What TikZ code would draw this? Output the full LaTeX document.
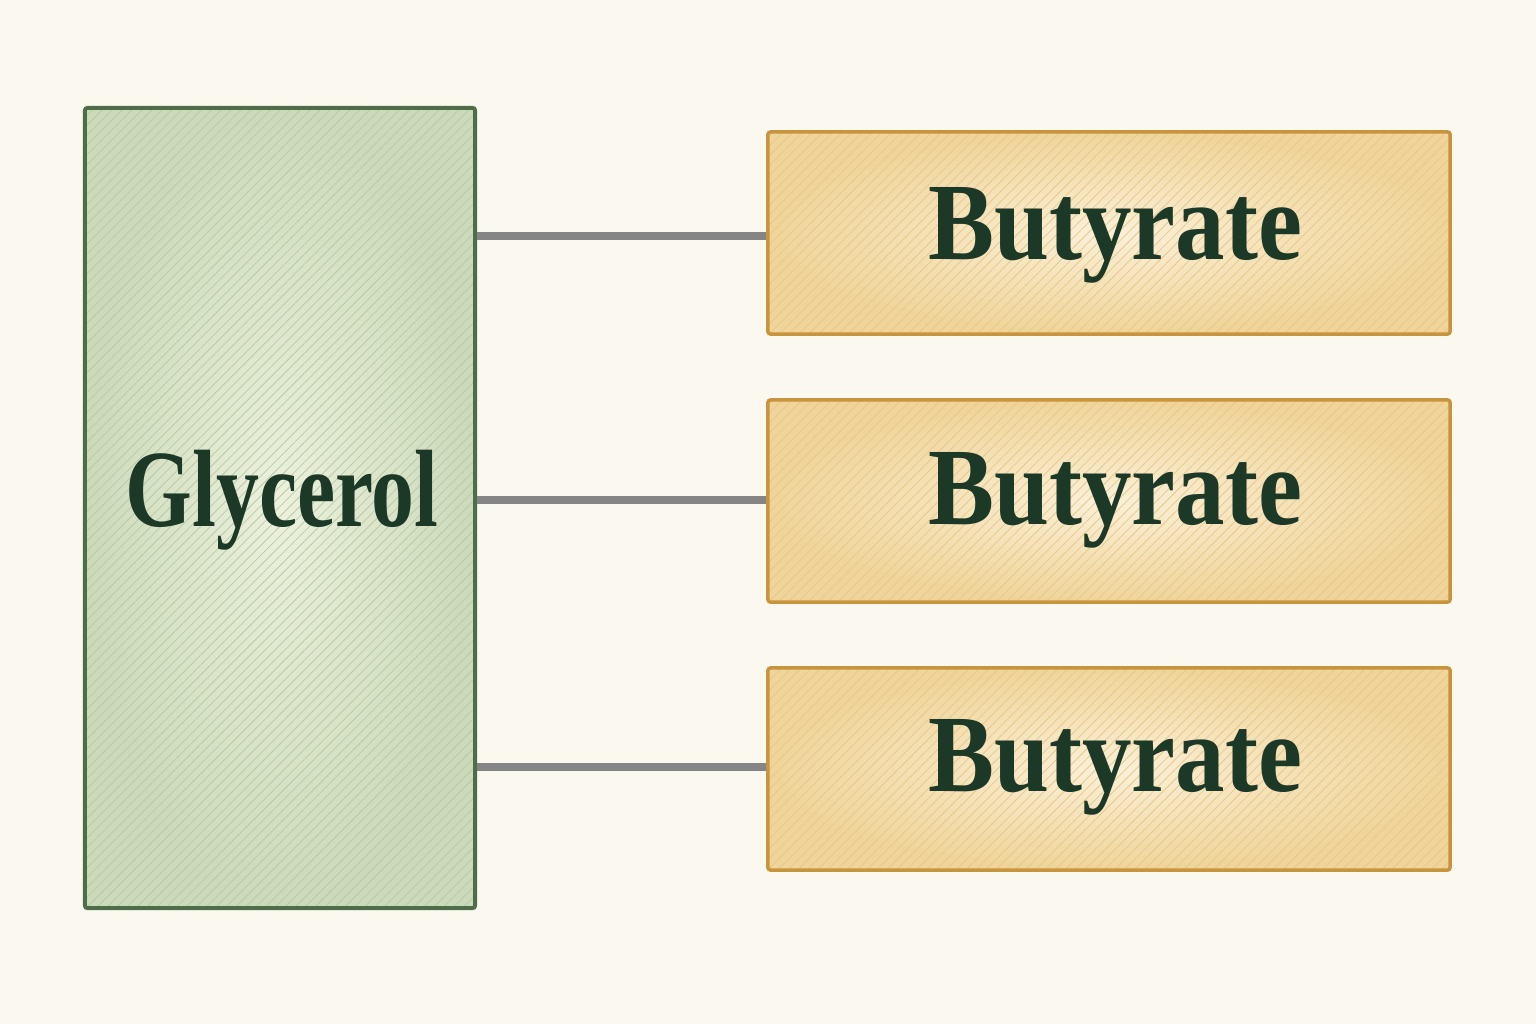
\documentclass[tikz,border=0pt]{standalone}
\usepackage{fontspec}
\setmainfont{Liberation Serif}
\usetikzlibrary{patterns.meta}
\definecolor{bg}{HTML}{FBF8F0}
\definecolor{gfill}{HTML}{CBDAB9}
\definecolor{gin}{HTML}{EDF1DE}
\definecolor{gdraw}{HTML}{4D6E48}
\definecolor{ghatch}{HTML}{B9CBA6}
\definecolor{ofill}{HTML}{F0D499}
\definecolor{oin}{HTML}{FBF0D8}
\definecolor{odraw}{HTML}{C8953E}
\definecolor{ohatch}{HTML}{E6C98C}
\definecolor{txt}{HTML}{1C3826}
\definecolor{link}{HTML}{858585}
\tikzset{
  glybox/.style={draw=none, inner color=gin, outer color=gfill,
    minimum width=390pt, minimum height=800pt, inner sep=0pt,
    postaction={draw=none, pattern={Lines[angle=45,distance=7pt,line width=0.8pt]}, pattern color=ghatch, fill opacity=0.6}},
  butbox/.style={draw=none, inner color=oin, outer color=ofill,
    minimum width=682pt, minimum height=202pt, inner sep=0pt,
    postaction={draw=none, pattern={Lines[angle=45,distance=7pt,line width=0.8pt]}, pattern color=ohatch, fill opacity=0.6}},
  gborder/.style={draw=gdraw, line width=4pt, rounded corners=3pt},
  oborder/.style={draw=odraw, line width=3.5pt, rounded corners=3pt},
  lbl/.style={text=txt, font=\fontsize{110}{110}\selectfont\bfseries},
  linkline/.style={draw=link, line width=8pt}
}
\begin{document}
\begin{tikzpicture}[x=1pt,y=-1pt]
\useasboundingbox[fill=bg] (0,0) rectangle (1536,1024);
\node[glybox] (gly) at (280,508) {};
\node[butbox] (b1) at (1109,233) {};
\node[butbox] (b2) at (1109,501) {};
\node[butbox] (b3) at (1109,769) {};
\draw[gborder] (gly.south west) rectangle (gly.north east);
\draw[oborder] (b1.south west) rectangle (b1.north east);
\draw[oborder] (b2.south west) rectangle (b2.north east);
\draw[oborder] (b3.south west) rectangle (b3.north east);
\coordinate (g1) at (gly.east |- 0,236);
\coordinate (g2) at (gly.east |- 0,500);
\coordinate (g3) at (gly.east |- 0,767);
\draw[linkline] ([xshift=2pt]g1) -- ([xshift=-1.75pt]b1.west |- g1);
\draw[linkline] ([xshift=2pt]g2) -- ([xshift=-1.75pt]b2.west |- g2);
\draw[linkline] ([xshift=2pt]g3) -- ([xshift=-1.75pt]b3.west |- g3);
\node[lbl, xscale=0.78] (glyt) at (282,500) {Glycerol};
\node[lbl, xscale=0.9] (t1) at (1115,235) {Butyrate};
\node[lbl, xscale=0.9] (t2) at (1115,500) {Butyrate};
\node[lbl, xscale=0.9] (t3) at (1115,767) {Butyrate};
\end{tikzpicture}
\end{document}
